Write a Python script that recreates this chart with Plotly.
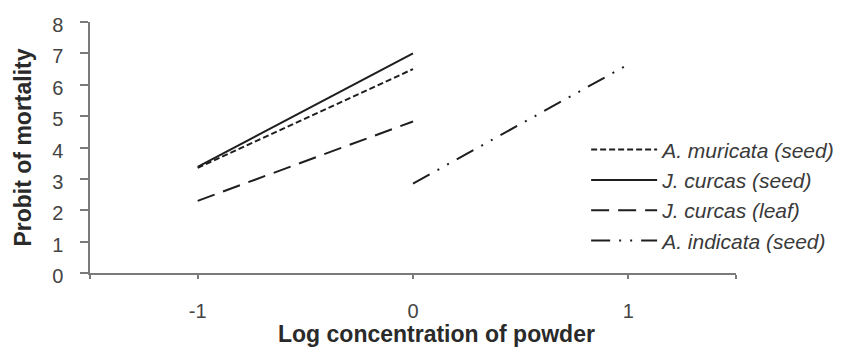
import plotly.graph_objects as go

# Data
series_names = ["A. muricata (seed)", "J. curcas (seed)", "J. curcas (leaf)", "A. indicata (seed)"]
muricata_x = [-1, 0]
muricata_y = [3.35, 6.5]
curcas_seed_x = [-1, 0]
curcas_seed_y = [3.38, 7.0]
curcas_leaf_x = [-1, 0]
curcas_leaf_y = [2.3, 4.83]
indicata_x = [0, 1]
indicata_y = [2.85, 6.65]

x_tickvals = [-1.5, -1, 0, 1, 1.5]
x_ticktext = ["", "-1", "0", "1", ""]
y_tickvals = [0, 1, 2, 3, 4, 5, 6, 7, 8]
x_title = "Log concentration of powder"
y_title = "Probit of mortality"

line_color = "#1e1e1e"
dashes = ["6px,3px", "solid", "18px,9px", "19px,9px,2px,9px,2px,9px"]
xs = [muricata_x, curcas_seed_x, curcas_leaf_x, indicata_x]
ys = [muricata_y, curcas_seed_y, curcas_leaf_y, indicata_y]

fig = go.Figure()
for name, x, y, d in zip(series_names, xs, ys, dashes):
    fig.add_trace(go.Scatter(
        x=x, y=y, mode="lines", name=name,
        line=dict(color=line_color, width=2, dash=d),
    ))

font_family = "Liberation Sans, Arial, sans-serif"

fig.update_layout(
    width=847, height=347,
    margin=dict(l=90, r=111, t=22, b=74, autoexpand=False),
    paper_bgcolor="white", plot_bgcolor="white",
    font=dict(family=font_family, color="#444444", size=20),
    showlegend=True,
    legend=dict(
        x=0.768, y=0.572, xanchor="left", yanchor="top",
        bgcolor="rgba(0,0,0,0)", borderwidth=0,
        font=dict(family=font_family, size=21, color="#3a3a3a", style="italic"),
        itemwidth=66, tracegroupgap=0,
    ),
    xaxis=dict(
        range=[-1.5, 1.5], tickmode="array", tickvals=x_tickvals, ticktext=x_ticktext,
        showgrid=False, zeroline=False, showline=True, linecolor="#7a7a7a", linewidth=1.5,
        ticks="outside", ticklen=4, tickcolor="#7a7a7a", tickwidth=1.5,
        ticklabelstandoff=15,
        tickfont=dict(size=20, color="#444444"),
    ),
    yaxis=dict(
        range=[0, 8], tickmode="array", tickvals=y_tickvals,
        showgrid=False, zeroline=False, showline=True, linecolor="#7a7a7a", linewidth=1.5,
        ticks="outside", ticklen=8, tickcolor="#7a7a7a", tickwidth=1.5,
        ticklabelstandoff=13, ticklabelshift=3,
        tickfont=dict(size=20, color="#444444"),
        title=dict(text="<b>" + y_title + "</b>", standoff=14,
                   font=dict(size=23, color="#2a2a2a")),
    ),
    annotations=[dict(
        text="<b>" + x_title + "</b>", xref="paper", yref="paper",
        x=0.536, y=-0.303, xanchor="center", yanchor="bottom", showarrow=False,
        font=dict(family=font_family, size=23, color="#2a2a2a"),
    )],
)

fig.write_html("out.html", config={"displayModeBar": False},
               post_script="document.body.style.margin='0';document.body.style.overflow='hidden';")
